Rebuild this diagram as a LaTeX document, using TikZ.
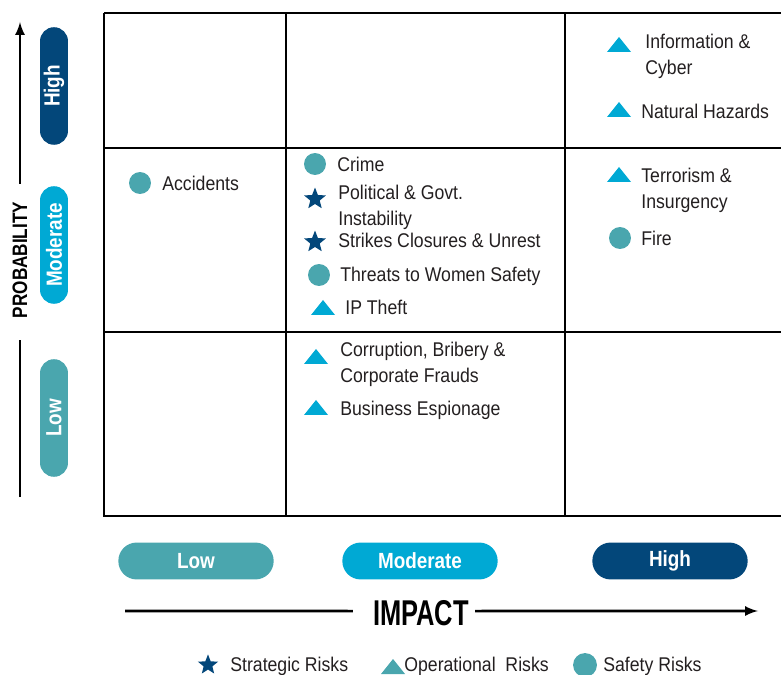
\documentclass[tikz,border=0pt]{standalone}
\usepackage{fontspec}
\setmainfont{Liberation Sans}[FakeStretch=0.89]
\newfontfamily\pillfont{Liberation Sans}[FakeStretch=0.86]
\newfontfamily\probfont{Liberation Sans}[FakeStretch=0.82]
\newfontfamily\impactfont{Liberation Sans}[FakeStretch=0.71]
\usetikzlibrary{shapes.geometric}
\definecolor{safetyteal}{HTML}{4AA6AE}
\definecolor{operblue}{HTML}{00A9D4}
\definecolor{stratnavy}{HTML}{03477A}
\definecolor{inkgray}{HTML}{231F20}
\def\optri[#1](#2,#3){\fill[#1] ({#2-12},{#3+7}) -- ({#2+12},{#3+7}) -- ({#2},{#3-8}) -- cycle;}

\begin{document}
\begin{tikzpicture}[x=0.02cm, y=-0.02cm,
	gridline/.style={line width=0.9pt, black},
	axisline/.style={line width=1.5pt, black},
	risklabel/.style={anchor=west, align=left, inner sep=0pt, text=inkgray, font=\fontsize{11.3}{14.7}\selectfont},
	pill/.style={rounded corners=#1, inner sep=0pt, text=white, font=\pillfont\bfseries\fontsize{12.5}{14}\selectfont},
	safetymark/.style={circle, fill=safetyteal, minimum size=12.5pt, inner sep=0pt},
	stratmark/.style={star, star points=5, star point ratio=2.3, fill=stratnavy, minimum size=13pt, inner sep=0pt}]
			%%%%% START %%%%%
			
			\useasboundingbox (0,0) rectangle (781,675);
			\clip (0,0) rectangle (781,675);
			
			\draw[gridline] (104,13) -- (790,13);
			\draw[gridline] (104,13) -- (104,516) -- (790,516);
			\draw[gridline] (286,13) -- (286,516);
			\draw[gridline] (565,13) -- (565,516);
			\draw[gridline] (104,148) -- (790,148);
			\draw[gridline] (104,332) -- (790,332);
			
			% high probability
			\optri[operblue](619,45)
			\node[risklabel] (infocyber) at (645,56) {Information \&\\Cyber};
			\optri[operblue](619,110)
			\node[risklabel] (nathazards) at (641,111) {Natural Hazards};
			
			% moderate probability
			\node[safetymark] (m-accidents) at (140,183) {};
			\node[risklabel] (accidents) at (162,183) {Accidents};
			
			\node[safetymark] (m-crime) at (315,164) {};
			\node[risklabel] (crime) at (337,164) {Crime};
			\node[stratmark] (m-political) at (315,199) {};
			\node[risklabel] (political) at (338,207) {Political \& Govt.\\Instability};
			\node[stratmark] (m-strikes) at (315,242) {};
			\node[risklabel] (strikes) at (338,240) {Strikes Closures \& Unrest};
			\node[safetymark] (m-threats) at (319,275) {};
			\node[risklabel] (threats) at (340,276) {Threats to Women Safety};
			\optri[operblue](323,308)
			\node[risklabel] (iptheft) at (345,307) {IP Theft};
			
			\optri[operblue](619,175)
			\node[risklabel] (terrorism) at (641,190) {Terrorism \&\\Insurgency};
			\node[safetymark] (m-fire) at (620,238) {};
			\node[risklabel] (fire) at (641,238) {Fire};
			
			% low probability
			\optri[operblue](316,357)
			\node[risklabel] (corruption) at (340,364) {Corruption, Bribery \&\\Corporate Frauds};
			\optri[operblue](316,408)
			\node[risklabel] (espionage) at (340,410) {Business Espionage};
			
			% probability axis
			\node[pill=7.9pt, fill=stratnavy, rotate=90, minimum width=66.9pt, minimum height=15.9pt] (p-high) at (54,86) {High};
			\node[pill=7.9pt, fill=operblue, rotate=90, minimum width=66.9pt, minimum height=15.9pt] (p-moderate) at (54,245) {Moderate};
			\node[pill=7.9pt, fill=safetyteal, rotate=90, minimum width=66.9pt, minimum height=15.9pt] (p-low) at (54,418) {Low};
			
			\node[rotate=90, inner sep=0pt, text=black, font=\probfont\bfseries\fontsize{11.9}{14}\selectfont] (probability) at (20,260) {PROBABILITY};
			\coordinate (p-top) at (20,22);
			\coordinate (p-bottom) at (20,497);
			\draw[axisline, -latex] ([yshift=10pt]probability.east) -- (p-top);
			\draw[axisline] (p-bottom) -- ([yshift=-12.5pt]probability.west);
			
			% impact axis
			\node[pill=10.4pt, fill=safetyteal, minimum width=88.4pt, minimum height=21pt] (i-low) at (196,561) {Low};
			\node[pill=10.4pt, fill=operblue, minimum width=88.4pt, minimum height=21pt] (i-moderate) at (420,561) {Moderate};
			\node[pill=10.4pt, fill=stratnavy, minimum width=88.4pt, minimum height=21pt] (i-high) at (670,561) {High};
			
			\node[inner sep=0pt, text=black, font=\impactfont\bfseries\fontsize{20.4}{24}\selectfont] (impact) at (421,613) {IMPACT};
			\coordinate (i-left) at (125,611);
			\coordinate (i-right) at (758,611);
			\draw[axisline] (i-left) -- ([xshift=-11.3pt, yshift=1.1pt]impact.west);
			\draw[axisline, -latex] ([xshift=3.4pt, yshift=1.1pt]impact.east) -- (i-right);
			
			% legend
			\node[stratmark, minimum size=12pt] (lg-strat) at (208,665) {};
			\node[risklabel] (lg-strattext) at (230,666) {Strategic Risks};
			\optri[safetyteal](393,667)
			\node[risklabel] (lg-opertext) at (404,666) {Operational\ \ Risks};
			\node[safetymark, minimum size=13.6pt] (lg-safe) at (585,665) {};
			\node[risklabel] (lg-safetext) at (603,666) {Safety Risks};
			
			%%%%% END %%%%%
\end{tikzpicture}
\end{document}
